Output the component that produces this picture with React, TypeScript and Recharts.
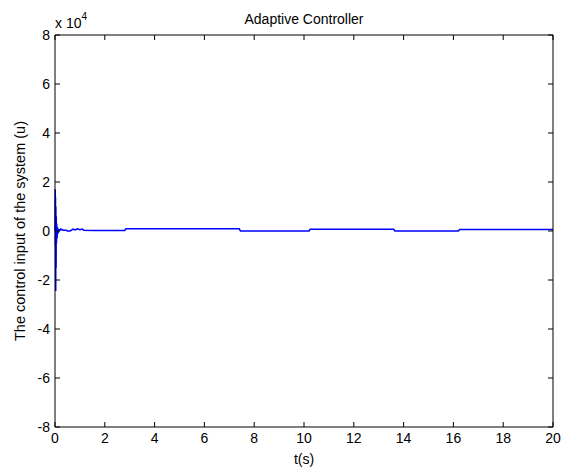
import * as React from 'react';
import { LineChart, Line, XAxis, YAxis } from 'recharts';

// time (s) and control input u
const times = [
  0, 0.01, 0.015, 0.02, 0.03, 0.035, 0.045, 0.05, 0.06, 0.07, 0.085, 0.1, 0.13, 0.16, 0.2, 0.23, 0.27, 0.32,
  0.45, 0.5, 0.6, 0.65, 0.72, 0.8, 0.9, 1.0, 1.1, 1.15, 1.5, 2.0, 2.8, 2.85, 4.0, 5.5, 7.4, 7.45, 9.0,
  10.2, 10.25, 12.0, 13.6, 13.65, 15.0, 16.2, 16.25, 18.0, 20,
];
const uValues = [
  0, 17000, -6000, 14000, -24500, 10000, -15000, 6000, -5000, 3000, -3000, 1500, -1000, 500, 300, 800, 600, 300,
  300, 0, 0, 300, 800, 400, 900, 500, 800, 300, 250, 250, 250, 900, 900, 900, 900, 0, 0,
  0, 700, 700, 700, 0, 0, 0, 600, 600, 600,
];

const xTicks = [0, 2, 4, 6, 8, 10, 12, 14, 16, 18, 20];
const yTicks = [-80000, -60000, -40000, -20000, 0, 20000, 40000, 60000, 80000];

const data = times.map((t, i) => ({ t, u: uValues[i] }));

const font = 'Arial, "Liberation Sans", Helvetica, sans-serif';
const TL = 5; // inward tick length

// matlab style ticks: label outside, short mark pointing into the plot.
// tick x/y arrive offset from the axis line by tickSize + tickMargin
const BottomTick = (p: any) => (
  <g>
    <line x1={p.x} x2={p.x} y1={p.y - 6} y2={p.y - 6 - TL} stroke="#000" />
    <text x={p.x} y={p.y} dy="0.71em" textAnchor="middle" fontSize={14} fontFamily={font} fill="#000">
      {p.payload.value}
    </text>
  </g>
);
const LeftTick = (p: any) => (
  <g>
    <line x1={p.x + 5} x2={p.x + 5 + TL} y1={p.y} y2={p.y} stroke="#000" />
    <text x={p.x} y={p.y} dy="0.355em" textAnchor="end" fontSize={14} fontFamily={font} fill="#000">
      {p.payload.value / 10000}
    </text>
  </g>
);
const TopTick = (p: any) => <line x1={p.x} x2={p.x} y1={p.y + 2} y2={p.y + 2 + TL} stroke="#000" />;
const RightTick = (p: any) => <line x1={p.x - 2} x2={p.x - 2 - TL} y1={p.y} y2={p.y} stroke="#000" />;

export default function App() {
  return (
    <div style={{ position: 'absolute', left: 0, top: 0, width: 564, height: 471, background: '#fff' }}>
      <LineChart width={564} height={471} data={data} margin={{ top: 34, right: 10, bottom: 0, left: 10 }}>
        <XAxis
          dataKey="t"
          type="number"
          domain={[0, 20]}
          ticks={xTicks}
          interval={0}
          height={44}
          stroke="#000"
          tickLine={false}
          tickSize={1}
          tickMargin={5}
          tick={BottomTick}
          label={(p: any) => {
            const vb = p.viewBox;
            return (
              <text x={vb.x + vb.width / 2} y={vb.y + 37} textAnchor="middle" fontSize={14} fontFamily={font} fill="#000">
                t(s)
              </text>
            );
          }}
        />
        <XAxis
          xAxisId="top"
          orientation="top"
          dataKey="t"
          type="number"
          domain={[0, 20]}
          ticks={xTicks}
          interval={0}
          height={1}
          stroke="#000"
          tickLine={false}
          tickSize={1}
          tickMargin={1}
          tick={TopTick}
          label={(p: any) => {
            const vb = p.viewBox;
            const top = vb.y + vb.height;
            return (
              <g>
                <text x={vb.x + vb.width / 2} y={top - 11} textAnchor="middle" fontSize={14} fontFamily={font} fill="#000">
                  Adaptive Controller
                </text>
                <text x={vb.x} y={top - 7} fontSize={14} fontFamily={font} fill="#000">
                  x 10<tspan dy={-8} fontSize={10}>4</tspan>
                </text>
              </g>
            );
          }}
        />
        <YAxis
          type="number"
          domain={[-80000, 80000]}
          ticks={yTicks}
          interval={0}
          width={45}
          stroke="#000"
          tickLine={false}
          tickSize={1}
          tickMargin={4}
          tick={LeftTick}
          label={(p: any) => {
            const vb = p.viewBox;
            const cy = vb.y + vb.height / 2;
            return (
              <text x={25} y={cy} transform={`rotate(-90, 25, ${cy})`} textAnchor="middle" fontSize={14.5} fontFamily={font} fill="#000">
                The control input of the system (u)
              </text>
            );
          }}
        />
        <YAxis
          yAxisId="right"
          orientation="right"
          type="number"
          domain={[-80000, 80000]}
          ticks={yTicks}
          interval={0}
          width={1}
          stroke="#000"
          tickLine={false}
          tickSize={1}
          tickMargin={1}
          tick={RightTick}
        />
        {/* hidden copy so the top and right axes get drawn */}
        <Line
          xAxisId="top"
          yAxisId="right"
          type="linear"
          dataKey="u"
          stroke="none"
          dot={false}
          activeDot={false}
          isAnimationActive={false}
        />
        <Line
          type="linear"
          dataKey="u"
          stroke="#0000ff"
          strokeWidth={1.5}
          strokeLinejoin="miter"
          dot={false}
          isAnimationActive={false}
        />
      </LineChart>
    </div>
  );
}
